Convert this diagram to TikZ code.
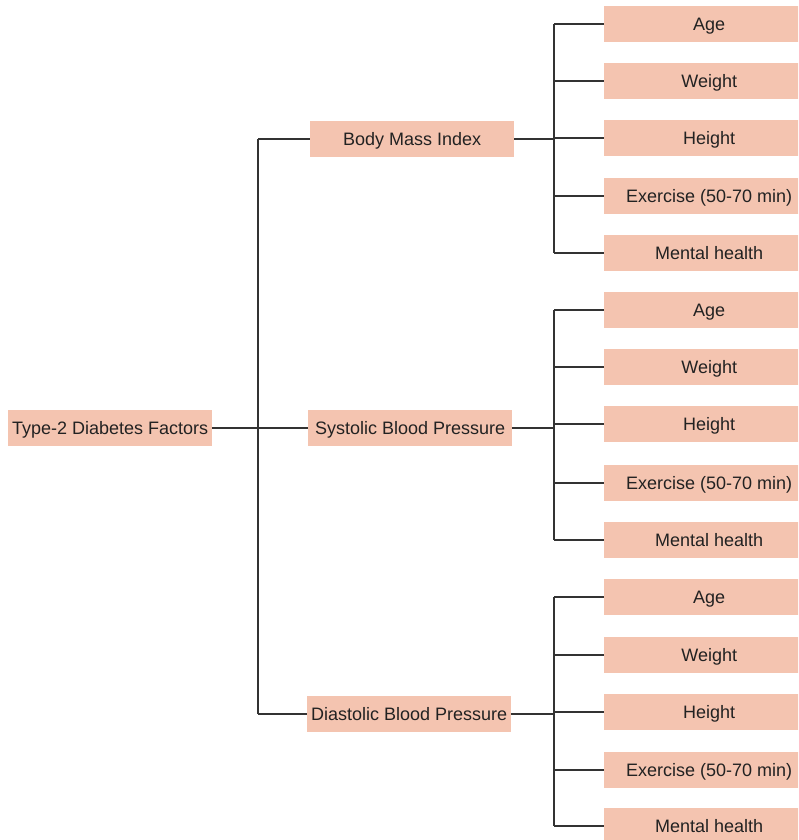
\documentclass[tikz,border=0pt]{standalone}
\usepackage{fontspec}
\setmainfont{Liberation Sans}
\definecolor{boxfill}{HTML}{F4C4B0}
\definecolor{linec}{HTML}{333333}
\definecolor{txt}{HTML}{222222}
\begin{document}
\begin{tikzpicture}[x=1pt,y=-1pt,
  base/.style={fill=boxfill,draw=none,inner sep=0pt,text=txt,font=\fontsize{18}{20}\selectfont,text height=12.6pt,text depth=0pt,minimum height=36pt,anchor=west},
  midbox/.style={base,minimum width=204pt},
  leafbox/.style={base,minimum width=210pt},
  conn/.style={draw=linec,line width=1.3pt}]
\useasboundingbox (0,0) rectangle (798,840);
\clip (0,0) rectangle (798,840);
% root and middle level
\node[midbox] (root) at (8,428) {Type-2 Diabetes Factors};
\node[midbox] (bmi) at (310,139) {Body Mass Index};
\node[midbox] (sbp) at (308,428) {Systolic Blood Pressure};
\node[midbox] (dbp) at (307,714) {Diastolic Blood Pressure};
\coordinate (t1) at (258,139);
\coordinate (t2) at (258,714);
\draw[conn] (t1) -- (t2);
\draw[conn] (t1) -- (bmi.west);
\draw[conn] (t2) -- (dbp.west);
\draw[conn] (root.east) -- (sbp.west);
% leaves
\foreach \g/\pn/\ys in {a/bmi/{24,81,138,196,253},b/sbp/{310,367,424,483,540},c/dbp/{597,655,712,770,826}}{
  \foreach \lab [count=\i] in {Age,Weight,Height,Exercise (50-70 min),Mental health}{
    \pgfmathsetmacro{\yy}{{\ys}[\i-1]}
    \node[leafbox] (\g\i) at (604,\yy) {\lab};
    \coordinate (\g c\i) at (554,\yy);
    \draw[conn] (\g c\i) -- (\g\i.west);
  }
  \draw[conn] (\g c1) -- (\g c5);
  \draw[conn] (\pn.east) -- (\pn.east -| \g c1);
}
\end{tikzpicture}
\end{document}
